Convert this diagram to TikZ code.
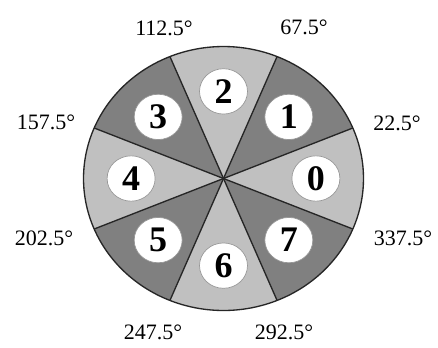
\documentclass[tikz,border=0pt]{standalone}
\usepackage{fontspec}
\setmainfont{Liberation Serif}
\usetikzlibrary{shapes.geometric}
\definecolor{lightsec}{RGB}{192,192,192}
\definecolor{darksec}{RGB}{128,128,128}
\definecolor{numrim}{RGB}{150,150,150}
\tikzset{
  anglelabel/.style={font=\fontsize{16.5}{18}\selectfont, inner sep=0pt},
  numbox/.style={ellipse, fill=white, draw=numrim, line width=0.5pt,
    minimum width=36pt, minimum height=34pt, inner sep=0pt,
    font=\fontsize{27}{29}\selectfont\bfseries},
  divider/.style={draw=black!85, line width=1pt},
}
\begin{document}
\begin{tikzpicture}[x=0.75pt,y=-0.75pt]
\useasboundingbox (0,0) rectangle (438,347);
\begin{scope}[shift={(223.5,178.5)}]
\begin{scope}[x=105pt,y=99pt]
  \coordinate (c) at (0,0);
  \foreach \i in {0,...,7}{
    \pgfmathsetmacro{\a}{-22.5+45*\i}
    \pgfmathsetmacro{\b}{22.5+45*\i}
    \pgfmathtruncatemacro{\odd}{mod(\i,2)}
    \ifnum\odd=0 \def\col{lightsec}\else\def\col{darksec}\fi
    \fill[\col] (c) -- plot[domain=\a:\b, samples=25] ({cos(\x)},{sin(\x)}) -- cycle;
  }
  \foreach \i in {0,...,7}{
    \pgfmathsetmacro{\a}{22.5+45*\i}
    \coordinate (e\i) at (\a:1);
    \draw[divider] (c) -- (e\i);
  }
  \draw[divider] plot[domain=0:360, samples=120, smooth cycle] ({cos(\x)},{sin(\x)});
  \foreach \i in {0,...,7}{
    \node[numbox] (n\i) at (45*\i:0.66) {\i};
  }
\end{scope}
\end{scope}
\node[anglelabel] (l22) at (397,123) {22.5°};
\node[anglelabel] (l67) at (304,27) {67.5°};
\node[anglelabel] (l112) at (164,28) {112.5°};
\node[anglelabel] (l157) at (46,122) {157.5°};
\node[anglelabel] (l202) at (44,238) {202.5°};
\node[anglelabel] (l247) at (153,332) {247.5°};
\node[anglelabel] (l292) at (284,332) {292.5°};
\node[anglelabel] (l337) at (403,238) {337.5°};
\end{tikzpicture}
\end{document}
